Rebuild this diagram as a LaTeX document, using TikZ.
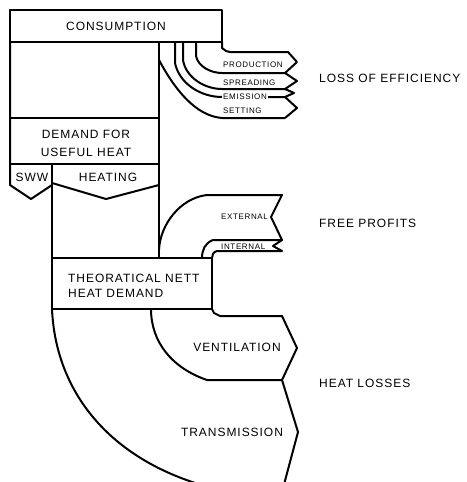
\documentclass[tikz,border=0pt]{standalone}
\usepackage{fontspec}
\setmainfont{Liberation Sans}[LetterSpace=8]
\begin{document}
\begin{tikzpicture}[x=1pt, y=-1pt,
    flow/.style={line width=2pt, line join=round},
    lbl/.style={font=\fontsize{12}{15}\selectfont, inner sep=1pt, align=center},
    slbl/.style={font=\fontsize{8}{9}\selectfont, inner sep=1pt, anchor=west, fill=white},
    side/.style={font=\fontsize{12}{15}\selectfont, inner sep=0pt, anchor=west}
  ]
    \useasboundingbox (0,0) rectangle (466,482);
    \clip (0,0) rectangle (466,482);
    % consumption and useful heat
    \draw[flow] (10,10) rectangle (222,42);
    \draw[flow] (10,42) -- (10,185) -- (31,199) -- (52,185);
    \draw[flow] (10,118) -- (159,118);
    \draw[flow] (10,164) -- (159,164);
    \draw[flow] (52,164) -- (52,258);
    \draw[flow] (52,183) -- (106,199) -- (159,185);
    \draw[flow] (159,42) -- (159,258);
    \draw[flow] (52,258) rectangle (212,309);
    % loss of efficiency
    \draw[flow] (222,42) -- (222,48) -- (226,51) -- (230,52) -- (288,52) -- (297,62)
      -- (285,73) -- (297,81) -- (285,89) -- (294,93) -- (285,97) -- (297,108) -- (285,118);
    \draw[flow] (196,42) -- (196,56) .. controls (198,66) and (210,73) .. (222,73) -- (285,73);
    \draw[flow] (183,42) -- (183,60) .. controls (186,78) and (205,89) .. (222,89) -- (285,89);
    \draw[flow] (175,42) -- (175,63) .. controls (179,83) and (200,97) .. (222,97) -- (285,97);
    \draw[flow] (159,60) .. controls (174,88) and (195,116) .. (222,118) -- (285,118);
    % free profits
    \draw[flow] (159,250) .. controls (160,225) and (180,198) .. (207,195) -- (282,195)
      -- (271,217) -- (282,240) -- (213,240) .. controls (205,243) and (202,250) .. (202,258);
    \draw[flow] (282,240) -- (273,246) -- (282,251) -- (217,251)
      .. controls (213,252) and (212,255) .. (212,258);
    % heat losses
    \draw[flow] (212,309) -- (214,313) -- (220,316) -- (282,316) -- (297,348) -- (282,380)
      -- (207,380) .. controls (172,368) and (151,342) .. (151,309);
    \draw[flow] (52,309) .. controls (56,400) and (120,470) .. (230,492);
    \draw[flow] (282,380) -- (298,432) -- (282,492);

    \node[lbl] (cons) at (116,26) {CONSUMPTION};
    \node[lbl, font=\fontsize{12}{18}\selectfont] (useful) at (86,143) {DEMAND FOR\\USEFUL HEAT};
    \node[lbl] (sww) at (32,177) {SWW};
    \node[lbl] (heating) at (108,177) {HEATING};
    \node[lbl, align=left, anchor=west] (nett) at (67,286) {THEORATICAL NETT\\HEAT DEMAND};
    \node[lbl] (vent) at (237,347) {VENTILATION};
    \node[lbl] (trans) at (232,432) {TRANSMISSION};
    \node[slbl] (prod) at (222,65) {PRODUCTION};
    \node[slbl] (spread) at (222,83) {SPREADING};
    \node[slbl] (emis) at (222,97) {EMISSION};
    \node[slbl] (sett) at (222,111) {SETTING};
    \node[slbl] (ext) at (220,217) {EXTERNAL};
    \node[slbl, fill=none] (int) at (220,247) {INTERNAL};
    \node[side] (loss) at (319,78) {LOSS OF EFFICIENCY};
    \node[side] (free) at (319,223) {FREE PROFITS};
    \node[side] (losses) at (319,383) {HEAT LOSSES};
\end{tikzpicture}
\end{document}
